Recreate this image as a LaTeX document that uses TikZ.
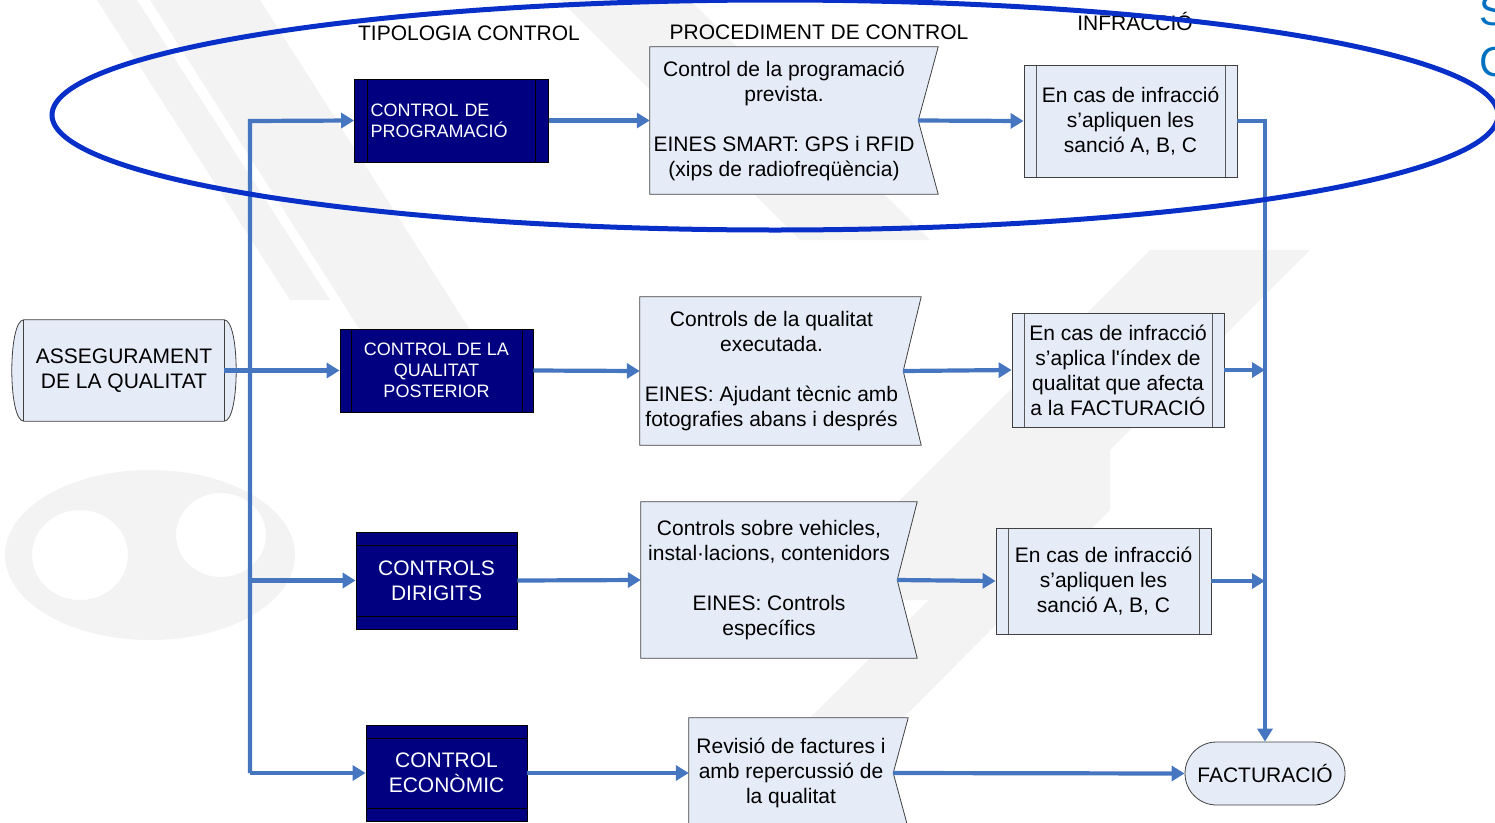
\documentclass[tikz,border=0pt]{standalone}
\usepackage{fontspec}
\setmainfont{Liberation Sans}
\usetikzlibrary{arrows.meta,shapes.misc,backgrounds,calc}
\definecolor{navy}{RGB}{0,0,128}
\definecolor{lightbox}{RGB}{230,236,247}
\definecolor{conncol}{RGB}{71,118,192}
\definecolor{ellcol}{RGB}{8,48,200}
\definecolor{wm}{RGB}{243,243,243}
\definecolor{letterblue}{RGB}{0,112,192}
\newcommand\fs[2]{\fontsize{#1}{#2}\selectfont}
\tikzset{
  darkbox/.style={draw=black, fill=navy, text=white, font=\fs{18}{21}, align=center, line width=0.8pt, inner sep=0pt},
  vlines/.style 2 args={path picture={
      \draw[#2,line width=0.8pt] ([xshift=#1]path picture bounding box.north west) -- ([xshift=#1]path picture bounding box.south west);
      \draw[#2,line width=0.8pt] ([xshift=-#1]path picture bounding box.north east) -- ([xshift=-#1]path picture bounding box.south east);}},
  hlines/.style={path picture={
      \draw[black,line width=0.8pt] ([yshift=-#1]path picture bounding box.north west) -- ([yshift=-#1]path picture bounding box.north east);
      \draw[black,line width=0.8pt] ([yshift=#1]path picture bounding box.south west) -- ([yshift=#1]path picture bounding box.south east);}},
  infbox/.style={draw=black!75, fill=lightbox, font=\fs{21}{25}, align=center, line width=0.8pt, inner sep=0pt, vlines={12pt}{black!65}},
  proctext/.style={font=\fs{21}{25}, align=center, inner sep=0pt},
  procline/.style={draw=black!75, fill=lightbox, line width=0.8pt},
  header/.style={font=\fs{21}{25}, anchor=base},
  conn/.style={draw=conncol, line width=4.2pt, -{Triangle[length=13pt,width=15pt]}},
}
% procedure shape: rectangle whose right side is notched; #1 node, #2 extension
\newcommand\procshape[2]{%
  \path[procline] (#1.north west) -- ([xshift=#2]#1.north east) -- (#1.east)
     -- ([xshift=#2]#1.south east) -- (#1.south west) -- cycle;}
\begin{document}
\begin{tikzpicture}[x=1pt,y=-1pt]
\useasboundingbox (0,0) rectangle (1495,822);

% ---------- watermark ----------
\begin{scope}[on background layer]
  \fill[wm] (97,0) -- (137,0) -- (330,300) -- (290,300) -- cycle;
  \fill[wm] (150,0) -- (260,0) -- (470,330) -- (360,330) -- cycle;
  \fill[wm] (560,0) -- (690,0) -- (930,240) -- (800,240) -- cycle;
  \fill[wm] (1150,250) -- (1310,250) -- (960,600) -- (800,600) -- cycle;
  \fill[wm] (705,822) -- (800,822) -- (1110,510) -- (1110,420) -- cycle;
  \fill[wm, even odd rule] (150,555) ellipse [x radius=145pt, y radius=85pt]
       (80,555) ellipse [x radius=48pt, y radius=45pt]
       (221,535) ellipse [x radius=45pt, y radius=42pt];
\end{scope}

% ---------- headers ----------
\node[header] (hTip) at (469,40) {TIPOLOGIA CONTROL};
\node[header] (hProc) at (819,39) {PROCEDIMENT DE CONTROL};
\node[header] (hInf) at (1135,30) {INFRACCIÓ};
\node[font=\fs{42}{50}, text=letterblue, anchor=base west, inner sep=0pt] (sS) at (1479,25) {S};
\node[font=\fs{42}{50}, text=letterblue, anchor=base west, inner sep=0pt] (sC) at (1479,76) {C};

% ---------- assegurament ----------
\node[font=\fs{21}{25}, align=center, minimum width=200pt, minimum height=101pt, inner sep=0pt] (cyl) at (124,370.5) {ASSEGURAMENT\\DE LA QUALITAT};
\begin{scope}[on background layer]
  \path[procline] (cyl.north west) -- (cyl.north east)
     .. controls ([xshift=16pt]cyl.north east) and ([xshift=16pt]cyl.south east) .. (cyl.south east)
     -- (cyl.south west)
     .. controls ([xshift=-16pt]cyl.south west) and ([xshift=-16pt]cyl.north west) .. (cyl.north west) -- cycle;
  \draw[black!75, line width=0.8pt] (cyl.north west) -- (cyl.south west);
  \draw[black!75, line width=0.8pt] (cyl.north east) -- (cyl.south east);
\end{scope}

% ---------- dark boxes ----------
\node[darkbox, vlines={13pt}{black}, minimum width=193pt, minimum height=83pt, text width=162pt, inner xsep=16pt, align=left] (b1) at (451.5,120.5) {CONTROL DE\\PROGRAMACIÓ};
\node[darkbox, vlines={11pt}{black}, minimum width=193pt, minimum height=83pt] (b2) at (436.5,370.5) {CONTROL DE LA\\QUALITAT\\POSTERIOR};
\node[darkbox, hlines=13pt, font=\fs{21}{25}, minimum width=161pt, minimum height=97pt] (b3) at (436.5,580.5) {CONTROLS\\DIRIGITS};
\node[darkbox, hlines=13pt, font=\fs{21}{25}, minimum width=161pt, minimum height=96pt] (b4) at (446.5,773) {CONTROL\\ECONÒMIC};

% ---------- procedure boxes ----------
\node[proctext, minimum width=268pt, minimum height=147pt] (p1) at (784,120.5)
  {Control de la programació\\prevista.\\[25pt]EINES SMART: GPS i RFID\\(xips de radiofreqüència)};
\node[proctext, minimum width=263pt, minimum height=148pt] (p2) at (771.5,371)
  {Controls de la qualitat\\executada.\\[25pt]EINES: Ajudant tècnic amb\\fotografies abans i després};
\node[proctext, minimum width=256pt, minimum height=156pt] (p3) at (769,580)
  {Controls sobre vehicles,\\instal·lacions, contenidors\\[25pt]EINES: Controls\\específics};
\node[proctext, minimum width=204pt, minimum height=110pt] (p4) at (791,773)
  {Revisió de factures i\\amb repercussió de\\la qualitat};
\begin{scope}[on background layer]
  \procshape{p1}{20pt}
  \procshape{p2}{18pt}
  \procshape{p3}{20pt}
  \procshape{p4}{15pt}
\end{scope}

% ---------- infraction boxes ----------
\node[infbox, minimum width=213pt, minimum height=112pt] (i1) at (1130.5,121) {En cas de infracció\\s’apliquen les\\sanció A, B, C};
\node[infbox, minimum width=212pt, minimum height=114pt] (i2) at (1118,370) {En cas de infracció\\s’aplica l\textquotesingle índex de\\qualitat que afecta\\a la FACTURACIÓ};
\node[infbox, minimum width=215pt, minimum height=106pt] (i3) at (1103.5,581) {En cas de infracció\\s’apliquen les\\sanció A, B, C};

% ---------- facturacio ----------
\node[rounded rectangle, draw=black!75, fill=lightbox, line width=0.8pt, font=\fs{21}{25}, minimum width=160pt, minimum height=63pt, inner sep=0pt] (fact) at (1265,773.5) {FACTURACIÓ};

% ---------- connectors ----------
\coordinate (t1) at (250,121);
\coordinate (t3) at (250,580.5);
\coordinate (t4) at (250,773);
\draw[conn] (t4) -- (t1) -- (b1.west);
\draw[conn] (t3) -- (b3.west);
\draw[conn] (t4) -- (b4.west);
\draw[conn] (cyl.east) -- (b2.west);

\draw[conn] (b1.east) -- (p1.west);
\draw[conn] (b2.east) -- (p2.west);
\draw[conn] (b3.east) -- (p3.west);
\draw[conn] (b4.east) -- (p4.west);

\draw[conn] (p1.east) -- (i1.west);
\draw[conn] (p2.east) -- (i2.west);
\draw[conn] (p3.east) -- (i3.west);
\draw[conn] (p4.east) -- (fact.west);

\draw[conn] (i1.east) -| (fact.north);
\coordinate (j2) at (fact.north |- i2.east);
\coordinate (j3) at (fact.north |- i3.east);
\draw[conn] (i2.east) -- (j2);
\draw[conn] (i3.east) -- (j3);

% ---------- ellipse ----------
\draw[ellcol, line width=5pt] (775,115) ellipse [x radius=723pt, y radius=115pt];
\end{tikzpicture}
\end{document}
